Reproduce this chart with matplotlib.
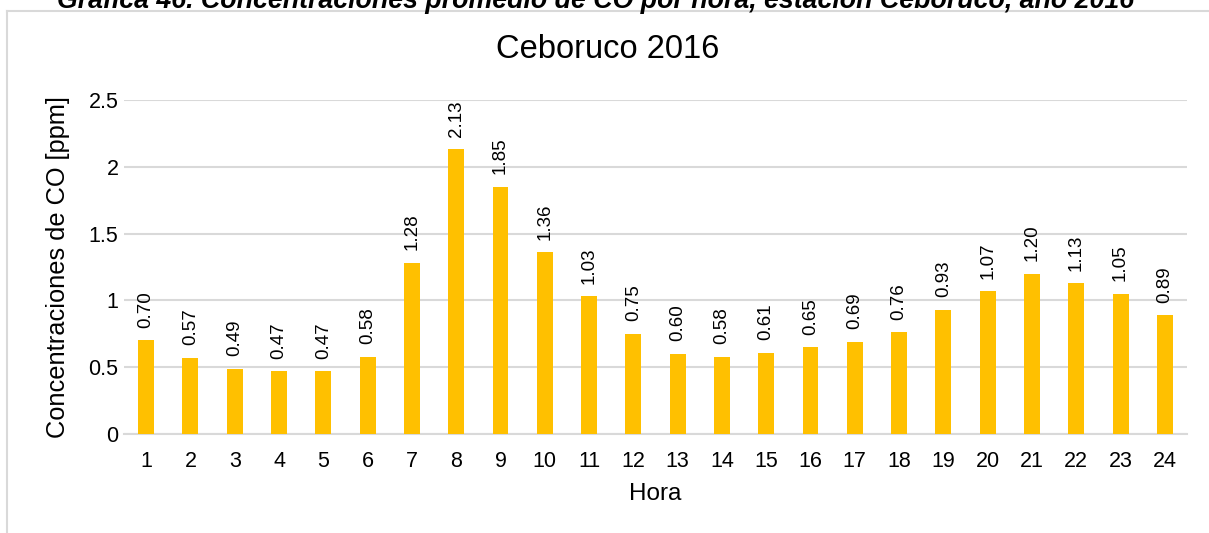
import matplotlib
matplotlib.use("Agg")
import matplotlib.pyplot as plt
from matplotlib.lines import Line2D

plt.rcParams['font.family'] = ['Liberation Sans', 'DejaVu Sans']

# Hourly mean CO concentrations, Ceboruco station, 2016
horas = list(range(1, 25))
concentraciones = [0.70, 0.57, 0.49, 0.47, 0.47, 0.58, 1.28, 2.13, 1.85, 1.36,
                   1.03, 0.75, 0.60, 0.58, 0.61, 0.65, 0.69, 0.76, 0.93, 1.07,
                   1.20, 1.13, 1.05, 0.89]
yticks = [0, 0.5, 1, 1.5, 2, 2.5]
ytick_labels = ['0', '0.5', '1', '1.5', '2', '2.5']

W, H = 1209, 533
fig = plt.figure(figsize=(W / 100, H / 100), dpi=100)
fig.patch.set_facecolor('white')

# axes box in pixel terms
x0, x1 = 124, 1187
y_top, y_bot = 100, 434
ax = fig.add_axes([x0 / W, (H - y_bot) / H, (x1 - x0) / W, (y_bot - y_top) / H])

bars = ax.bar(horas, concentraciones, width=0.36, color='#FFC000', zorder=3)
ax.set_xlim(0.5, 24.5)
ax.set_ylim(0, 2.5)
ax.set_yticks(yticks)
ax.set_yticklabels(ytick_labels)
ax.set_xticks(horas)
ax.set_xticklabels([str(h) for h in horas])
ax.tick_params(axis='both', length=0, labelsize=15.5, colors='#000000')
ax.tick_params(axis='x', pad=12)
ax.tick_params(axis='y', pad=4)
ax.yaxis.grid(True, color='#D9D9D9', linewidth=1.5, zorder=0)
for s in ['top', 'right', 'left']:
    ax.spines[s].set_visible(False)
ax.spines['bottom'].set_color('#D9D9D9')
ax.spines['bottom'].set_linewidth(1.5)

for h, v in zip(horas, concentraciones):
    ax.annotate(f'{v:.2f}', xy=(h, v), xytext=(0, 9), textcoords='offset points',
                rotation=90, ha='center', va='bottom', fontsize=13.5, color='#000000')

ax.set_ylabel('Concentraciones de CO [ppm]', fontsize=18.3, color='#000000', labelpad=13)
ax.set_xlabel('Hora', fontsize=17.5, color='#000000', labelpad=8)

fig.text(608 / W, (H - 50) / H, 'Ceboruco 2016', fontsize=23.5, ha='center', va='center',
         color='#000000')

# chart frame (left and top edges)
fig.add_artist(Line2D([7 / W, 7 / W], [0, (H - 11) / H], transform=fig.transFigure,
                      color='#D9D9D9', linewidth=1.5))
fig.add_artist(Line2D([7 / W, 1], [(H - 11) / H, (H - 11) / H], transform=fig.transFigure,
                      color='#D9D9D9', linewidth=1.5))

# caption above the chart
cap = fig.text(596 / W, (H - 8) / H,
               'Gráfica 46. Concentraciones promedio de CO por hora, estación Ceboruco, año 2016',
               fontsize=20, fontweight='bold', fontstyle='italic', ha='center', va='baseline',
               color='#000000')
fig.canvas.draw()
w = cap.get_window_extent().width
cap.set_fontsize(20 * 1075 / w)

fig.savefig('out.png', dpi=100, facecolor='white')
